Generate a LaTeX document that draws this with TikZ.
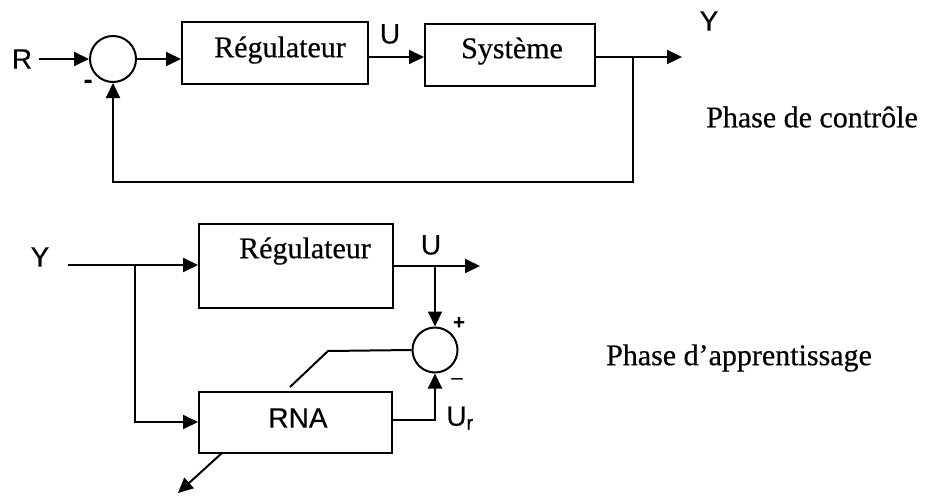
\documentclass[tikz,border=0pt]{standalone}
\usepackage{fontspec}
\setmainfont{Liberation Serif}[FakeBold=0.5]
\setsansfont{Liberation Sans}[FakeBold=0.4]
\usetikzlibrary{arrows.meta}
\begin{document}
\begin{tikzpicture}[x=1pt,y=-1pt,
  line width=2pt,
  tip/.style={-{Triangle[length=15pt,width=14pt]}},
  blk/.style={draw,line width=2pt,inner sep=0pt},
  sumc/.style={draw,circle,line width=2pt,minimum size=46pt,inner sep=0pt},
  serif/.style={font=\fontsize{30}{32}\selectfont\rmfamily},
  sans/.style={font=\fontsize{28}{30}\selectfont\sffamily},
  small/.style={font=\fontsize{26}{28}\selectfont\bfseries\sffamily}]
\useasboundingbox (0,0) rectangle (928,495);

% ---------- Phase de controle ----------
\node[sans] (R) at (22,59) {R};
\node[sumc] (s1) at (113,59) {};
\node[blk,minimum width=186pt,minimum height=61pt] (reg1) at (275,53) {};
\node[serif] (reg1t) at (280,50) {Régulateur};
\node[blk,minimum width=170pt,minimum height=61pt] (sys) at (510,55) {};
\node[serif] (syst) at (512,51) {Système};
\node[sans] (U1) at (390,34) {U};
\node[sans] (Y1) at (709,21) {Y};
\coordinate (out1) at (682,57);
\coordinate (br1) at (633,57);
\coordinate (fb1) at (633,182);
\coordinate (fb2) at (113,182);
\node[small] (m1) at (88,84) {-};
\node[serif] (ph1) at (812,117) {Phase de contrôle};

\draw[tip] (R.east) ++(3,0) coordinate (Rs) -- (s1.west);
\draw[tip] (s1.east) -- (s1.east -| reg1.west);
\draw[tip] (reg1.east |- 0,57) -- (sys.west |- 0,57);
\draw[tip] (sys.east |- out1) -- (out1);
\draw[tip] (br1) -- (fb1) -- (fb2) -- (s1.south);

% ---------- Phase d'apprentissage ----------
\node[sans] (Y2) at (40,257) {Y};
\node[blk,minimum width=194pt,minimum height=84pt] (reg2) at (296,266) {};
\node[serif] (reg2t) at (305,251) {Régulateur};
\node[blk,minimum width=193pt,minimum height=61pt] (rna) at (295.5,422.5) {};
\node[sans] (rnat) at (298,418) {RNA};
\node[sumc,minimum size=45pt] (s2) at (435,350) {};
\node[sans] (U2) at (431,245) {U};
\node[sans,inner sep=0pt] (Ur) at (460,418) {U\textsubscript{r}};
\node[font=\fontsize{20}{22}\selectfont\bfseries\sffamily] (plus) at (459,323) {+};
\node[font=\fontsize{20}{22}\selectfont\sffamily] (minus) at (457,381) {–};
\node[serif] (ph2) at (739,358) {Phase d’apprentissage};

\coordinate (in2) at (68,265);
\coordinate (br2) at (135,265);
\coordinate (br3) at (135,422);
\coordinate (out2) at (480,266);
\coordinate (br4) at (435,266);
\coordinate (ur1) at (435,420);
\coordinate (d1) at (328,351);
\coordinate (d2) at (290,387);
\coordinate (a1) at (222,453);
\coordinate (a2) at (178,493);

\draw[tip] (in2) -- (in2 -| reg2.west);
\draw[tip] (br2) -- (br3) -- (br3 -| rna.west);
\draw[tip] (reg2.east |- out2) -- (out2);
\draw[tip] (br4) -- (s2.north);
\draw[tip] (rna.east |- ur1) -- (ur1) -- (s2.south);
\draw (s2.west) -- (d1) -- (d2);
\draw[tip] (a1) -- (a2);
\end{tikzpicture}
\end{document}
